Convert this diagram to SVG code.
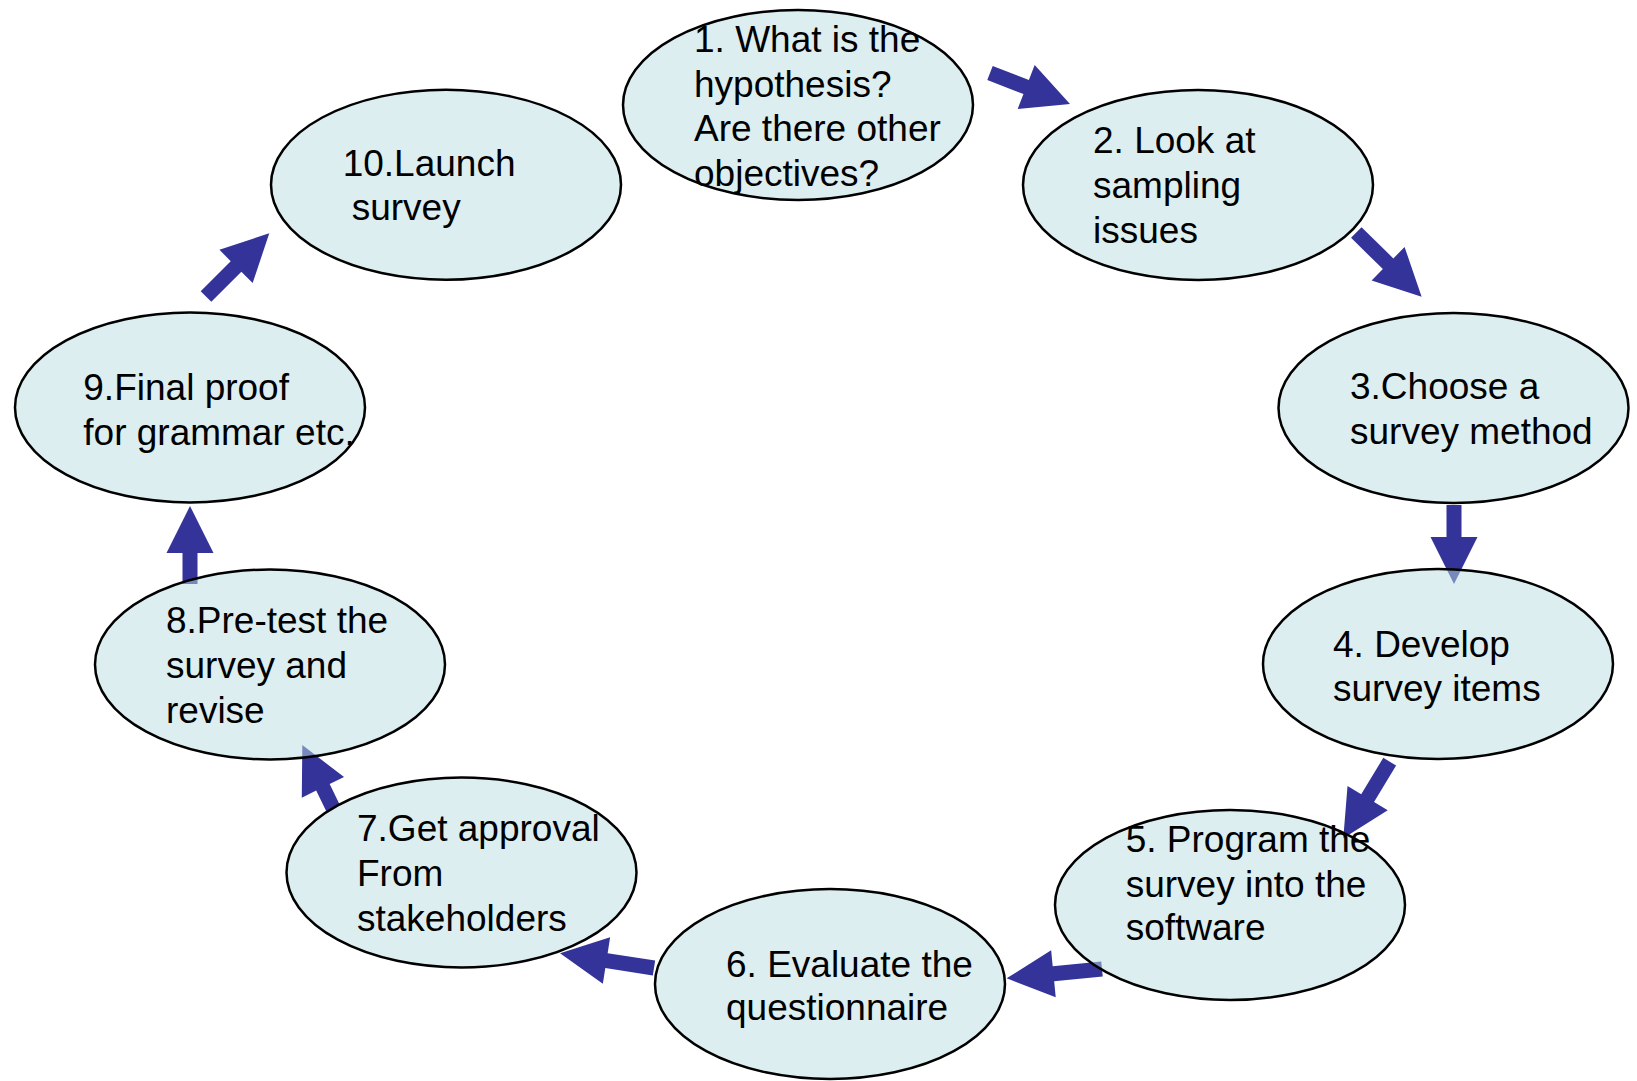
<svg xmlns="http://www.w3.org/2000/svg" width="1637" height="1081" viewBox="0 0 1637 1081">
<style>
.node ellipse{fill:#BBDDE1;fill-opacity:0.5;stroke:#000;stroke-width:2.5}
.node text{font-family:"Liberation Sans",Arial,sans-serif;font-size:37px;fill:#000}
.arrow{fill:#333399;stroke:none}
</style>
<rect width="1637" height="1081" fill="#fff"/>
<g id="connectors">
<path class="arrow" transform="translate(990,73) rotate(21.2)" d="M0,-7.5 H38.8 V-23.5 L85.8,0 L38.8,23.5 V7.5 H0 Z"/>
<path class="arrow" transform="translate(1356.3,232.5) rotate(44.5)" d="M0,-7.5 H44.6 V-23.5 L91.6,0 L44.6,23.5 V7.5 H0 Z"/>
<path class="arrow" transform="translate(1454,505) rotate(90)" d="M0,-7.5 H32 V-23.5 L79,0 L32,23.5 V7.5 H0 Z"/>
<path class="arrow" transform="translate(1389.7,761.7) rotate(121.2)" d="M0,-7.5 H42.6 V-23.5 L89.6,0 L42.6,23.5 V7.5 H0 Z"/>
<path class="arrow" transform="translate(1102,969) rotate(174.4)" d="M0,-7.5 H48.8 V-23.5 L95.8,0 L48.8,23.5 V7.5 H0 Z"/>
<path class="arrow" transform="translate(654,968) rotate(188.9)" d="M0,-7.5 H48.1 V-23.5 L95.1,0 L48.1,23.5 V7.5 H0 Z"/>
<path class="arrow" transform="translate(333,808) rotate(244)" d="M0,-7.5 H23 V-23.5 L70,0 L23,23.5 V7.5 H0 Z"/>
<path class="arrow" transform="translate(190,584) rotate(-90)" d="M0,-7.5 H31 V-23.5 L78,0 L31,23.5 V7.5 H0 Z"/>
<path class="arrow" transform="translate(206,296.5) rotate(-45)" d="M0,-7.5 H42.5 V-23.5 L89.5,0 L42.5,23.5 V7.5 H0 Z"/>
</g>
<g id="node1" class="node">
<ellipse cx="798" cy="105" rx="175" ry="95"/>
<text><tspan x="694" y="52">1. What is the</tspan><tspan x="694" y="96.5">hypothesis?</tspan><tspan x="694" y="141">Are there other</tspan><tspan x="694" y="185.5">objectives?</tspan></text>
</g>
<g id="node2" class="node">
<ellipse cx="1198" cy="185" rx="175" ry="95"/>
<text><tspan x="1093" y="153.3">2. Look at</tspan><tspan x="1093" y="198.3">sampling</tspan><tspan x="1093" y="243.3">issues</tspan></text>
</g>
<g id="node3" class="node">
<ellipse cx="1453.5" cy="408" rx="175" ry="95"/>
<text><tspan x="1350" y="399">3.Choose a</tspan><tspan x="1350" y="444">survey method</tspan></text>
</g>
<g id="node4" class="node">
<ellipse cx="1438" cy="664" rx="175" ry="95"/>
<text><tspan x="1333" y="656.7">4. Develop</tspan><tspan x="1333" y="700.5">survey items</tspan></text>
</g>
<g id="node5" class="node">
<ellipse cx="1230" cy="905" rx="175" ry="95"/>
<text><tspan x="1125.7" y="851.7">5. Program the</tspan><tspan x="1125.7" y="896.7">survey into the</tspan><tspan x="1125.7" y="940">software</tspan></text>
</g>
<g id="node6" class="node">
<ellipse cx="830" cy="984" rx="175" ry="95"/>
<text><tspan x="726" y="976.7">6. Evaluate the</tspan><tspan x="726" y="1020">questionnaire</tspan></text>
</g>
<g id="node7" class="node">
<ellipse cx="461.5" cy="872.5" rx="175" ry="95"/>
<text><tspan x="357" y="840.7">7.Get approval</tspan><tspan x="357" y="885.7">From</tspan><tspan x="357" y="930.7">stakeholders</tspan></text>
</g>
<g id="node8" class="node">
<ellipse cx="270" cy="664.5" rx="175" ry="95"/>
<text><tspan x="166" y="633.3">8.Pre-test the</tspan><tspan x="166" y="678.3">survey and</tspan><tspan x="166" y="723.3">revise</tspan></text>
</g>
<g id="node9" class="node">
<ellipse cx="190" cy="407.5" rx="175" ry="95"/>
<text><tspan x="83.3" y="400">9.Final proof</tspan><tspan x="83.3" y="445">for grammar etc.</tspan></text>
</g>
<g id="node10" class="node">
<ellipse cx="446" cy="184.7" rx="175" ry="95"/>
<text><tspan x="342.7" y="176">10.Launch</tspan><tspan x="351.7" y="220">survey</tspan></text>
</g>
</svg>
